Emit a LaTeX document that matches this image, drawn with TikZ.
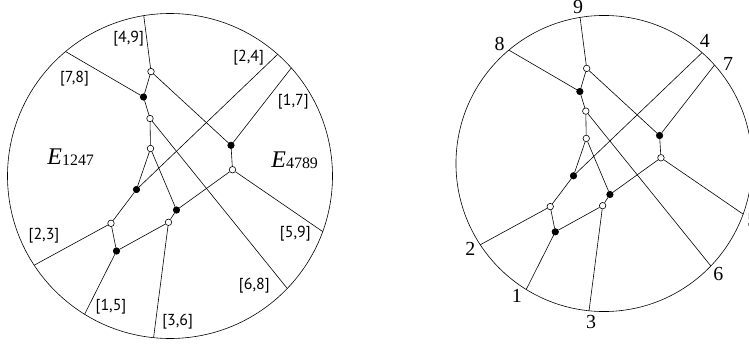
\documentclass[tikz,border=0pt]{standalone}
\usepackage{fontspec}
\setmainfont{Liberation Serif}
\newfontfamily\bracketfont{PT Sans}

\tikzset{
  wvert/.style={circle,draw,fill=white,inner sep=0pt,minimum size=6.5bp},
  bvert/.style={circle,draw,fill=black,inner sep=0pt,minimum size=6.5bp},
  facelab/.style={font=\bracketfont\fontsize{16}{16}\selectfont},
  bdlab/.style={font=\fontsize{20}{20}\selectfont},
  elab/.style={font=\fontsize{24}{24}\selectfont},
}

\newcommand{\Elab}[1]{\textit{E}{\fontsize{16}{16}\selectfont\raisebox{-1pt}{#1}}}

% the plabic graph, centred at the origin, disc radius 162.5
\newcommand{\plabicgraph}{%
  \draw (0,0) circle (162.5);
  \coordinate (p1) at (238.3:162.5);
  \coordinate (p2) at (213.3:162.5);
  \coordinate (p3) at (264.2:162.5);
  \coordinate (p4) at (48.5:162.5);
  \coordinate (p5) at (340.0:162.5);
  \coordinate (p6) at (316.2:162.5);
  \coordinate (p7) at (41.7:162.5);
  \coordinate (p8) at (130.0:162.5);
  \coordinate (p9) at (99.3:162.5);
  \node[wvert] (w1) at (-19,104.4) {};
  \node[bvert] (k1) at (-26.5,79) {};
  \node[wvert] (w2) at (-20,57.5) {};
  \node[wvert] (w3) at (-19.5,27.5) {};
  \node[bvert] (k2) at (-33.5,-13.5) {};
  \node[wvert] (w4) at (-59,-47.3) {};
  \node[bvert] (k3) at (-53.5,-75) {};
  \node[bvert] (k4) at (6.5,-34) {};
  \node[wvert] (w5) at (-1.5,-46.3) {};
  \node[bvert] (k5) at (61,30.7) {};
  \node[wvert] (w6) at (62.5,6.3) {};
  \draw (p9) -- (w1) -- (k1) -- (w2) -- (w3) -- (k2) -- (w4) -- (k3) -- (w5) -- (k4) -- (w6) -- (k5) -- (w1);
  \draw (p8) -- (k1);
  \draw (w2) -- (p6);
  \draw (w3) -- (k4);
  \draw (k2) -- (p4);
  \draw (w4) -- (p2);
  \draw (k3) -- (p1);
  \draw (w5) -- (p3);
  \draw (w6) -- (p5);
  \draw (k5) -- (p7);
}

\begin{document}
\begin{tikzpicture}[x=1bp,y=1bp,line width=0.6pt]
\useasboundingbox (0,0) rectangle (749,345);

% left disc with the face labels
\begin{scope}[shift={(170,169)},name prefix=l-]
\plabicgraph
\node[facelab] (l49) at (-41.3,137) {[4,9]};
\node[facelab] (l78) at (-95.5,97.2) {[7,8]};
\node[facelab] (l24) at (78.7,118.7) {[2,4]};
\node[facelab] (l17) at (123.3,74.7) {[1,7]};
\node[facelab] (l23) at (-126,-59.3) {[2,3]};
\node[facelab] (l59) at (125.3,-57.7) {[5,9]};
\node[facelab] (l68) at (84.3,-109.3) {[6,8]};
\node[facelab] (l15) at (-59,-131) {[1,5]};
\node[facelab] (l36) at (7.7,-146) {[3,6]};
\node[elab] (e1247) at (-99.3,19.3) {\Elab{1247}};
\node[elab] (e4789) at (124.7,16) {\Elab{4789}};
\end{scope}

% right disc with the boundary labels
\begin{scope}[shift={(604,181.5)},scale=0.911,name prefix=r-]
\plabicgraph
\node[bdlab] (n1) at (236.7:174.5) {1};
\node[bdlab] (n2) at (212.7:174.5) {2};
\node[bdlab] (n3) at (265.3:174.5) {3};
\node[bdlab] (n4) at (50.6:174.5) {4};
\node[bdlab] (n5) at (339.0:174.5) {5};
\node[bdlab] (n6) at (316.0:174.5) {6};
\node[bdlab] (n7) at (38.7:174.5) {7};
\node[bdlab] (n8) at (131.0:174.5) {8};
\node[bdlab] (n9) at (99.4:174.5) {9};
\end{scope}
\end{tikzpicture}
\end{document}
